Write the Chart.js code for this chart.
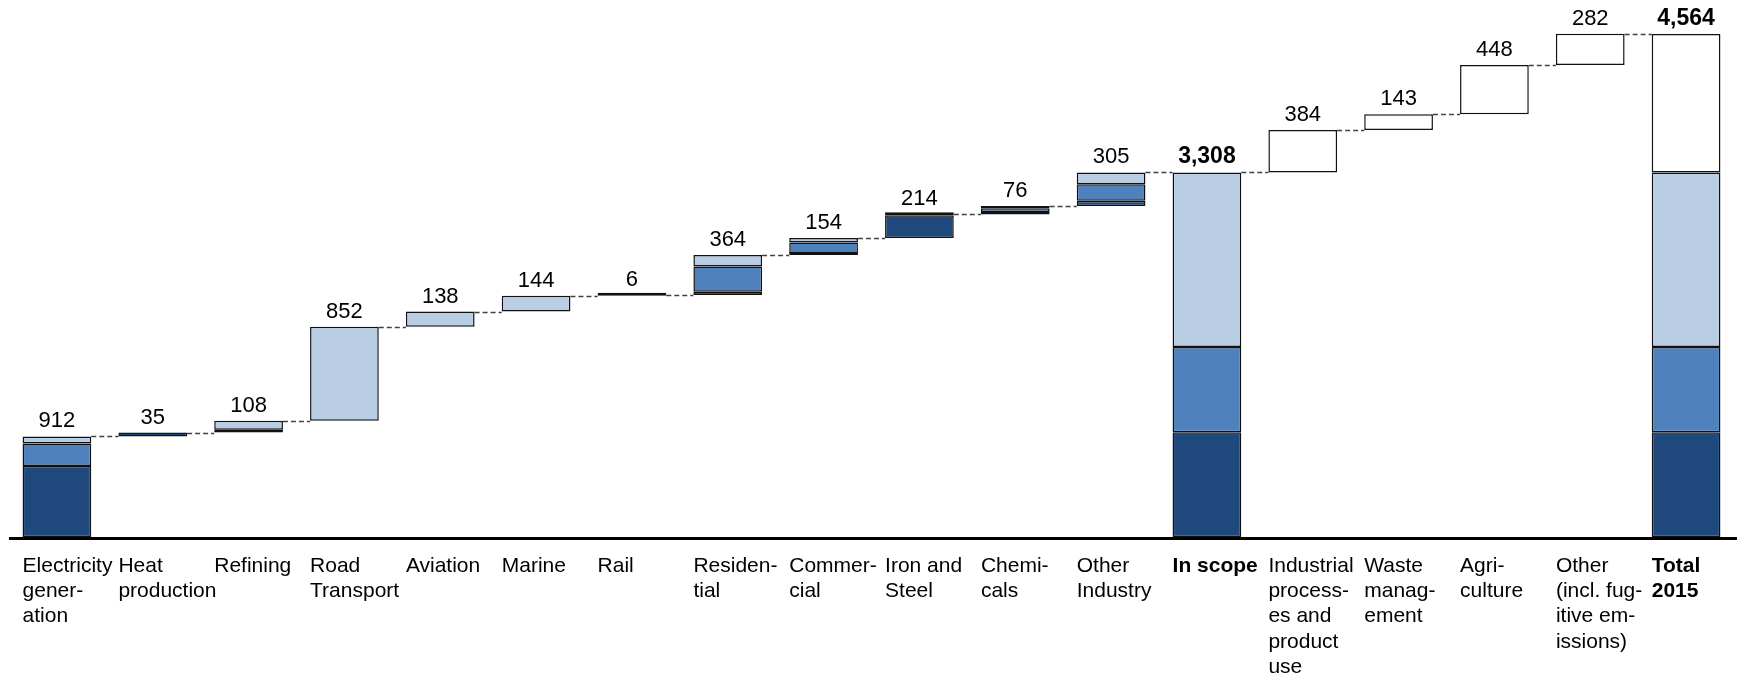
<!DOCTYPE html>
<html>
<head>
<meta charset="utf-8">
<script src="https://cdn.jsdelivr.net/npm/chart.js@4/dist/chart.umd.min.js"></script>
<style>
  html, body { margin: 0; padding: 0; background: #fff; }
  canvas { display: block; }
</style>
</head>
<body>
<canvas id="waterfall" width="1737" height="679"></canvas>
<script>
// Emissions waterfall 2015 — stacked segments per sector

const categories = [
    ['Electricity', 'gener-', 'ation'],
    ['Heat', 'production'],
    ['Refining'],
    ['Road', 'Transport'],
    ['Aviation'],
    ['Marine'],
    ['Rail'],
    ['Residen-', 'tial'],
    ['Commer-', 'cial'],
    ['Iron and', 'Steel'],
    ['Chemi-', 'cals'],
    ['Other', 'Industry'],
    ['In scope'],
    ['Industrial', 'process-', 'es and', 'product', 'use'],
    ['Waste', 'manag-', 'ement'],
    ['Agri-', 'culture'],
    ['Other', '(incl. fug-', 'itive em-', 'issions)'],
    ['Total', '2015']
];

// true = bar starts from zero (subtotal / total)
const isTotal = [false, false, false, false, false, false, false, false, false, false, false, false, true, false, false, false, false, true];

const darkValues   = [644, 35, 25, 0, 0, 0, 6, 31, 14, 206, 22, 48, 950, 0, 0, 0, 0, 950];
const mediumValues = [205, 0, 0, 0, 0, 0, 0, 228, 100, 8, 34, 150, 775, 0, 0, 0, 0, 775];
const lightValues  = [63, 0, 83, 852, 138, 144, 0, 105, 40, 0, 20, 107, 1583, 0, 0, 0, 0, 1583];
const otherValues  = [0, 0, 0, 0, 0, 0, 0, 0, 0, 0, 0, 0, 0, 384, 143, 448, 282, 1256];

const FONT = "'Liberation Sans', Arial, sans-serif";

// floating ranges for each segment, stacked dark -> medium -> light -> other
const series = [darkValues, mediumValues, lightValues, otherValues];
const ranges = series.map(() => []);
const bases = [];
const tops = [];
let running = 0;
categories.forEach((_, i) => {
    const base = isTotal[i] ? 0 : running;
    let cur = base;
    series.forEach((vals, s) => {
        const v = vals[i];
        ranges[s].push(v > 0 ? [cur, cur + v] : null);
        cur += v;
    });
    bases.push(base);
    tops.push(cur);
    if (!isTotal[i]) running = cur;
});

const colors = ['#1F497D', '#4F81BD', '#B9CDE5', '#FFFFFF'];
const names = ['Dark', 'Medium', 'Light', 'Other'];

const decorPlugin = {
    id: 'decor',
    afterDatasetsDraw(chart) {
        const { ctx } = chart;
        const x = chart.scales.x;
        const y = chart.scales.y;
        const meta = chart.getDatasetMeta(0);
        const half = (meta.data[0] && meta.data[0].width ? meta.data[0].width : x.width / categories.length * 0.717) / 2;

        ctx.save();

        // dashed connectors
        ctx.strokeStyle = '#404040';
        ctx.lineWidth = 1.4;
        ctx.setLineDash([5, 3]);
        for (let i = 0; i < categories.length - 1; i++) {
            const yy = Math.round(y.getPixelForValue(tops[i])) + 0.5;
            ctx.beginPath();
            ctx.moveTo(x.getPixelForValue(i) + half, yy);
            ctx.lineTo(x.getPixelForValue(i + 1) - half, yy);
            ctx.stroke();
        }
        ctx.setLineDash([]);

        // value labels
        ctx.fillStyle = '#000';
        ctx.textAlign = 'center';
        ctx.textBaseline = 'alphabetic';
        categories.forEach((_, i) => {
            const total = tops[i] - bases[i];
            ctx.font = isTotal[i] ? 'bold 23px ' + FONT : '22px ' + FONT;
            ctx.fillText(total.toLocaleString('en-US'), x.getPixelForValue(i), y.getPixelForValue(tops[i]) - 9);
        });

        // axis line
        const y0 = y.getPixelForValue(0);
        ctx.strokeStyle = '#000';
        ctx.lineWidth = 3;
        ctx.beginPath();
        ctx.moveTo(chart.chartArea.left, y0 + 1.5);
        ctx.lineTo(chart.width, y0 + 1.5);
        ctx.stroke();

        // category labels, left aligned with the bar
        ctx.textAlign = 'left';
        categories.forEach((lines, i) => {
            ctx.font = (isTotal[i] ? 'bold ' : '') + '21px ' + FONT;
            lines.forEach((line, k) => {
                ctx.fillText(line, x.getPixelForValue(i) - half, y0 + 35 + k * 25.2);
            });
        });

        ctx.restore();
    }
};

new Chart(document.getElementById('waterfall').getContext('2d'), {
    type: 'bar',
    data: {
        labels: categories.map(c => c.join(' ')),
        datasets: ranges.map((data, s) => ({
            label: names[s],
            data,
            backgroundColor: colors[s],
            borderColor: '#111111',
            borderWidth: 1.5,
            borderSkipped: false,
            grouped: false,
            minBarLength: s < 2 ? 3 : 0,
            barPercentage: 0.717,
            categoryPercentage: 1
        }))
    },
    options: {
        responsive: false,
        animation: false,
        layout: { padding: { left: 9, right: 3, top: 30, bottom: 142 } },
        scales: {
            x: { display: false, offset: true },
            y: { display: false, min: 0, max: 4600 }
        },
        plugins: {
            legend: { display: false },
            tooltip: { enabled: false }
        }
    },
    plugins: [decorPlugin]
});
</script>
</body>
</html>
